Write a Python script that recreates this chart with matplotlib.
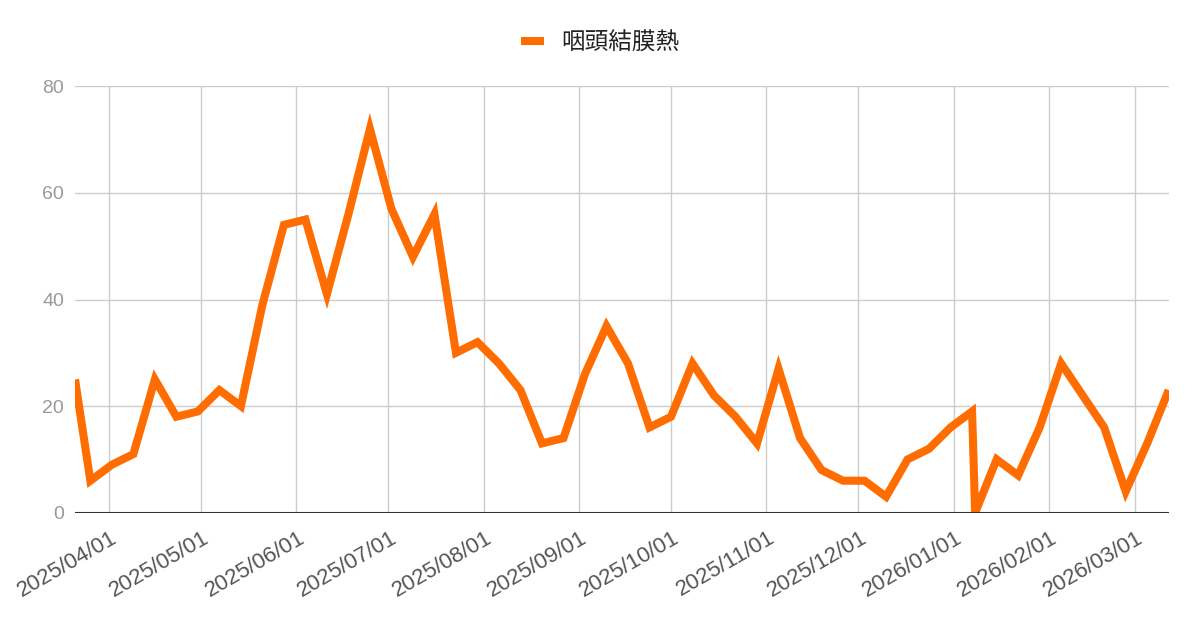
import matplotlib
matplotlib.use("Agg")
import matplotlib.pyplot as plt
import matplotlib.dates as mdates
import matplotlib.transforms as mtransforms
import pandas as pd

# weekly report dates (the year boundary restarts the week grid)
dates_2025 = [
    "2025-03-21", "2025-03-26", "2025-04-02", "2025-04-09", "2025-04-16",
    "2025-04-23", "2025-04-30", "2025-05-07", "2025-05-14", "2025-05-21",
    "2025-05-28", "2025-06-04", "2025-06-11", "2025-06-18", "2025-06-25",
    "2025-07-02", "2025-07-09", "2025-07-16", "2025-07-23", "2025-07-30",
    "2025-08-06", "2025-08-13", "2025-08-20", "2025-08-27", "2025-09-03",
    "2025-09-10", "2025-09-17", "2025-09-24", "2025-10-01", "2025-10-08",
    "2025-10-15", "2025-10-22", "2025-10-29", "2025-11-05", "2025-11-12",
    "2025-11-19", "2025-11-26", "2025-12-03", "2025-12-10", "2025-12-17",
    "2025-12-24", "2025-12-31", "2026-01-07",
]
dates_2026 = [
    "2026-01-08", "2026-01-15", "2026-01-22", "2026-01-29", "2026-02-05",
    "2026-02-12", "2026-02-19", "2026-02-26", "2026-03-05", "2026-03-12",
]
cases_2025 = [25, 6, 9, 11, 25, 18, 19, 23, 20, 39,
              54, 55, 41, 56, 72, 57, 48, 56, 30, 32,
              28, 23, 13, 14, 26, 35, 28, 16, 18, 28,
              22, 18, 13, 27, 14, 8, 6, 6, 3, 10,
              12, 16, 19]
cases_2026 = [0, 10, 7, 16, 28, 22, 16, 4, 13, 23]

series_name = "咽頭結膜熱"
y_ticks = [0, 20, 40, 60, 80]

dates = pd.to_datetime(dates_2025 + dates_2026)
cases = cases_2025 + cases_2026

plt.rcParams["font.family"] = ["Liberation Sans", "DejaVu Sans"]

fig = plt.figure(figsize=(12, 6.26), dpi=100)
ax = fig.add_axes([75 / 1200, 1 - 512.7 / 626, (1168.7 - 75) / 1200, (512.7 - 86.3) / 626])

ax.plot(dates, cases, color="#ff6d00", linewidth=5.8, solid_joinstyle="miter",
        solid_capstyle="butt", label=series_name, zorder=2)

ax.set_xlim(dates[0], dates[-1])
ax.set_ylim(0, 80)
ax.set_yticks(y_ticks)

ax.xaxis.set_major_locator(mdates.MonthLocator())
ax.xaxis.set_major_formatter(mdates.DateFormatter("%Y/%m/%d"))

ax.grid(True, color="#cccccc", linewidth=1.0, zorder=0)
ax.set_axisbelow(True)
ax.axhline(0, color="#333333", linewidth=1.5, zorder=3)

for s in ax.spines.values():
    s.set_visible(False)

ax.tick_params(axis="y", length=0, pad=8, labelsize=14, labelcolor="#999999")
ax.tick_params(axis="x", length=0, pad=17, labelsize=16, labelcolor="#555555")

shift = mtransforms.ScaledTranslation(7 / 100, 0, fig.dpi_scale_trans)
for lbl in ax.get_xticklabels():
    lbl.set_rotation(30)
    lbl.set_ha("right")
    lbl.set_va("center")
    lbl.set_rotation_mode("anchor")
    lbl.set_transform(lbl.get_transform() + shift)

leg = fig.legend(loc="center", bbox_to_anchor=(0.5, 1 - 43 / 626), frameon=False,
                 handlelength=1.0, handletextpad=0.7,
                 prop={"family": ["Noto Sans CJK JP", "DejaVu Sans"], "size": 17})
for t in leg.get_texts():
    t.set_color("#222222")

fig.savefig("out.png", dpi=100)
